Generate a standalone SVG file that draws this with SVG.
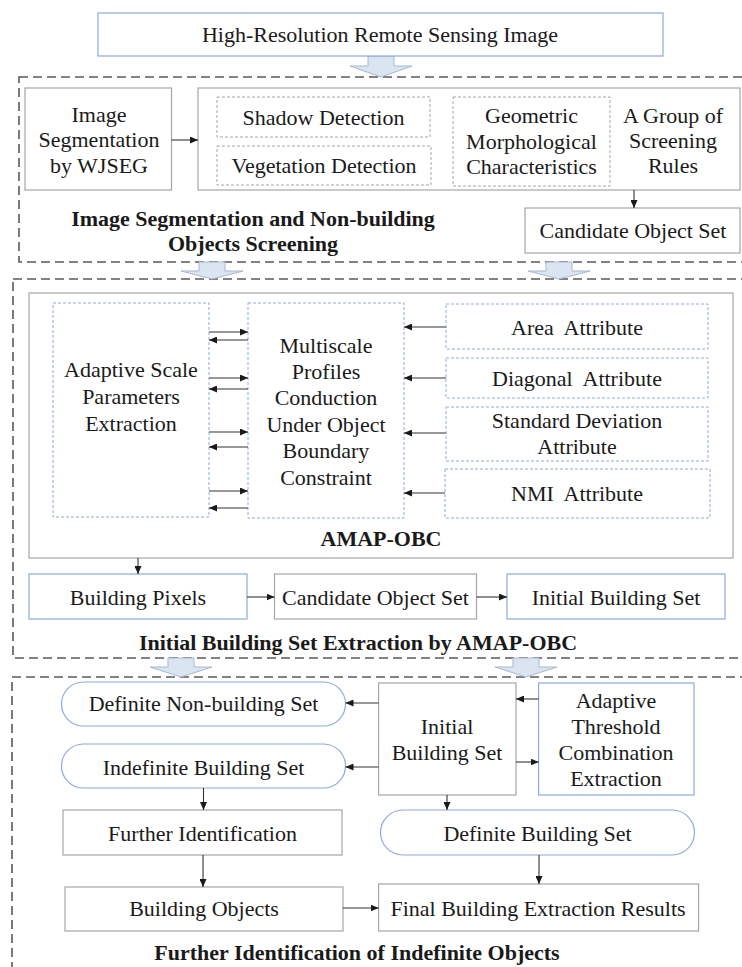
<svg xmlns="http://www.w3.org/2000/svg" width="742" height="967" viewBox="0 0 742 967">
<defs>
<marker id="ah" markerUnits="userSpaceOnUse" markerWidth="8" markerHeight="7" refX="8" refY="3.5" orient="auto">
<path d="M0,0 L8,3.5 L0,7 z" fill="#1a1a1a"/>
</marker>
<style>
.t{font-family:"Liberation Serif","Times New Roman",serif;font-size:22px;fill:#1a1a1a;text-anchor:middle}
.b{font-weight:bold}
.blue{fill:#fff;stroke:#8eaadb;stroke-width:1.2}
.gray{fill:#fff;stroke:#a6a6a6;stroke-width:1.2}
.outer{fill:none;stroke:#595959;stroke-width:1.6;stroke-dasharray:9 5}
.dg{fill:none;stroke:#a6a6a6;stroke-width:1;stroke-dasharray:3 2}
.db{fill:none;stroke:#8eaadb;stroke-width:1;stroke-dasharray:3 2}
.hollow{fill:#dbe5f1;stroke:#a9b8cf;stroke-width:1}
.conn line{stroke:#333;stroke-width:1.1;marker-end:url(#ah)}
</style>
</defs>

<!-- dashed section frames -->
<g id="frames">
<rect class="outer" x="19" y="77" width="735" height="185"/>
<rect class="outer" x="13" y="279" width="740" height="379"/>
<rect class="outer" x="12" y="677" width="740" height="310"/>
</g>

<!-- hollow block arrows -->
<g id="block-arrows">
<polygon class="hollow" points="368,56 394,56 394,66 412,66 381,77 350,66 368,66"/>
<polygon class="hollow" points="199,262 225,262 225,271 243,271 212,279 181,271 199,271"/>
<polygon class="hollow" points="546,262 572,262 572,271 590,271 559,279 528,271 546,271"/>
<polygon class="hollow" points="168,658 194,658 194,667 212,667 181,677 150,667 168,667"/>
<polygon class="hollow" points="513,658 539,658 539,667 557,667 526,677 495,667 513,667"/>
</g>

<g id="n-top">
<rect class="blue" x="98" y="13" width="565" height="43"/>
<text class="t" x="380" y="41.5">High-Resolution Remote Sensing Image</text>
</g>

<g id="n-imgseg">
<rect class="gray" x="25" y="88" width="146.5" height="102"/>
<text class="t" x="99" y="121.5">Image</text>
<text class="t" x="99" y="147">Segmentation</text>
<text class="t" x="99" y="172.5">by WJSEG</text>
</g>

<g id="n-screening">
<rect class="gray" x="198" y="88" width="542" height="102"/>
<rect class="dg" x="217" y="97" width="213" height="40"/>
<text class="t" x="323.5" y="124.5">Shadow Detection</text>
<rect class="dg" x="217" y="146" width="214" height="39"/>
<text class="t" x="324" y="172.5">Vegetation Detection</text>
<rect class="dg" x="453" y="97" width="157" height="89"/>
<text class="t" x="531.5" y="122.5">Geometric</text>
<text class="t" x="531.5" y="148.5">Morphological</text>
<text class="t" x="531.5" y="174">Characteristics</text>
<text class="t" x="673" y="122.5">A Group of</text>
<text class="t" x="673" y="147.5">Screening</text>
<text class="t" x="673" y="172.5">Rules</text>
</g>

<g id="n-candidate1">
<rect class="gray" x="525" y="208" width="215" height="45"/>
<text class="t" x="633" y="237.5">Candidate Object Set</text>
</g>

<g id="l-section1">
<text class="t b" x="253" y="225.5">Image Segmentation and Non-building</text>
<text class="t b" x="253" y="250.5">Objects Screening</text>
</g>

<g id="n-amap">
<rect class="gray" x="29" y="293" width="704" height="265"/>
<text class="t b" x="381" y="545.5">AMAP-OBC</text>
</g>

<g id="n-adaptive-scale">
<rect class="db" x="53" y="303" width="156" height="214"/>
<text class="t" x="131" y="376.5">Adaptive Scale</text>
<text class="t" x="131" y="403.5">Parameters</text>
<text class="t" x="131" y="430.5">Extraction</text>
</g>

<g id="n-multiscale">
<rect class="db" x="248" y="303" width="156" height="215"/>
<text class="t" x="326" y="352.5">Multiscale</text>
<text class="t" x="326" y="379">Profiles</text>
<text class="t" x="326" y="405.3">Conduction</text>
<text class="t" x="326" y="431.7">Under Object</text>
<text class="t" x="326" y="458.1">Boundary</text>
<text class="t" x="326" y="484.5">Constraint</text>
</g>

<g id="n-area">
<rect class="db" x="446" y="304" width="262" height="45"/>
<text class="t" x="577" y="334.5" xml:space="preserve">Area  Attribute</text>
</g>
<g id="n-diagonal">
<rect class="db" x="446" y="358" width="262" height="40"/>
<text class="t" x="577" y="385.5" xml:space="preserve">Diagonal  Attribute</text>
</g>
<g id="n-std">
<rect class="db" x="446" y="407" width="262" height="54"/>
<text class="t" x="577" y="427.5">Standard Deviation</text>
<text class="t" x="577" y="453.5">Attribute</text>
</g>
<g id="n-nmi">
<rect class="db" x="445" y="469" width="265" height="49"/>
<text class="t" x="577" y="500.5" xml:space="preserve">NMI  Attribute</text>
</g>

<g id="n-building-pixels">
<rect class="blue" x="29" y="574" width="218" height="45"/>
<text class="t" x="138" y="604.5">Building Pixels</text>
</g>
<g id="n-candidate2">
<rect class="gray" x="274.5" y="574" width="202" height="45"/>
<text class="t" x="375.5" y="604.5">Candidate Object Set</text>
</g>
<g id="n-initial1">
<rect class="blue" x="507" y="574" width="218" height="45"/>
<text class="t" x="616" y="604.5">Initial Building Set</text>
</g>

<g id="l-section2">
<text class="t b" x="358" y="649.5">Initial Building Set Extraction by AMAP-OBC</text>
</g>

<g id="n-def-non">
<rect class="blue" x="61.5" y="682" width="284" height="44" rx="22"/>
<text class="t" x="203.5" y="710.5">Definite Non-building Set</text>
</g>
<g id="n-indef">
<rect class="blue" x="61.5" y="744" width="284" height="44" rx="22"/>
<text class="t" x="203.5" y="774.5">Indefinite Building Set</text>
</g>
<g id="n-initial2">
<rect class="gray" x="378.6" y="683" width="137.4" height="112"/>
<text class="t" x="447" y="733.5">Initial</text>
<text class="t" x="447" y="760">Building Set</text>
</g>
<g id="n-threshold">
<rect class="blue" x="538.6" y="683" width="155.4" height="112"/>
<text class="t" x="616" y="708">Adaptive</text>
<text class="t" x="616" y="734">Threshold</text>
<text class="t" x="616" y="760">Combination</text>
<text class="t" x="616" y="786">Extraction</text>
</g>
<g id="n-further">
<rect class="gray" x="63" y="810" width="279" height="45"/>
<text class="t" x="202.5" y="840.5">Further Identification</text>
</g>
<g id="n-def-building">
<rect class="blue" x="380.5" y="810" width="314" height="45" rx="22.5"/>
<text class="t" x="537.5" y="840.5">Definite Building Set</text>
</g>
<g id="n-building-objects">
<rect class="gray" x="65" y="887" width="278" height="44"/>
<text class="t" x="204" y="915.5">Building Objects</text>
</g>
<g id="n-final">
<rect class="gray" x="378.6" y="884" width="320" height="47"/>
<text class="t" x="538" y="915.5">Final Building Extraction Results</text>
</g>

<g id="l-section3">
<text class="t b" x="357" y="960">Further Identification of Indefinite Objects</text>
</g>

<g id="connectors" class="conn">
<line x1="171.5" y1="140" x2="198" y2="140"/>
<line x1="634" y1="190" x2="634" y2="208"/>
<line x1="209" y1="332" x2="248" y2="332"/>
<line x1="248" y1="340" x2="209" y2="340"/>
<line x1="209" y1="378" x2="248" y2="378"/>
<line x1="248" y1="389" x2="209" y2="389"/>
<line x1="209" y1="432" x2="248" y2="432"/>
<line x1="248" y1="447" x2="209" y2="447"/>
<line x1="209" y1="491" x2="248" y2="491"/>
<line x1="248" y1="508" x2="209" y2="508"/>
<line x1="446" y1="327" x2="404" y2="327"/>
<line x1="446" y1="378" x2="404" y2="378"/>
<line x1="446" y1="433" x2="404" y2="433"/>
<line x1="445" y1="493" x2="404" y2="493"/>
<line x1="138" y1="558" x2="138" y2="574"/>
<line x1="247" y1="597" x2="274.5" y2="597"/>
<line x1="476.5" y1="597" x2="507" y2="597"/>
<line x1="378.6" y1="703" x2="345.5" y2="703"/>
<line x1="378.6" y1="767" x2="345.5" y2="767"/>
<line x1="538.6" y1="699" x2="516" y2="699"/>
<line x1="516" y1="762" x2="538.6" y2="762"/>
<line x1="203.5" y1="788" x2="203.5" y2="810"/>
<line x1="447" y1="795" x2="447" y2="810"/>
<line x1="203" y1="855" x2="203" y2="887"/>
<line x1="539" y1="855" x2="539" y2="884"/>
<line x1="343" y1="908" x2="378.6" y2="908"/>
</g>
</svg>
